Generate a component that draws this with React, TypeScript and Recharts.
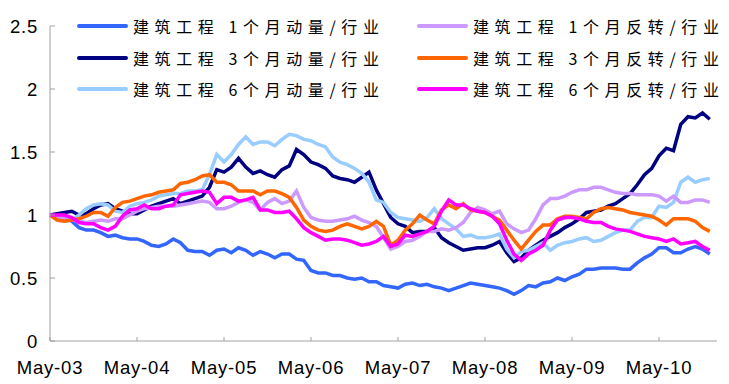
import React from 'react';
import { LineChart, Line, XAxis, YAxis, Legend } from 'recharts';

const tickLabels = ['May-03', 'May-04', 'May-05', 'May-06', 'May-07', 'May-08', 'May-09', 'May-10'];
const tickMonths = [0, 12, 24, 36, 48, 60, 72, 84];
const yTicks = [0, 0.5, 1, 1.5, 2, 2.5];

const seriesNames = [
  '建筑工程 1个月动量/行业',
  '建筑工程 3个月动量/行业',
  '建筑工程 6个月动量/行业',
  '建筑工程 1个月反转/行业',
  '建筑工程 3个月反转/行业',
  '建筑工程 6个月反转/行业',
];
const seriesColors = ['#3366FF', '#000080', '#99CCFF', '#CC99FF', '#FF6600', '#FF00FF'];

const mom1 = [1.00,0.99,0.98,0.95,0.90,0.88,0.88,0.86,0.83,0.84,
0.82,0.81,0.81,0.79,0.76,0.75,0.77,0.81,0.78,0.72,
0.71,0.71,0.68,0.72,0.73,0.70,0.74,0.72,0.68,0.71,
0.69,0.66,0.69,0.69,0.65,0.64,0.56,0.54,0.54,0.52,
0.52,0.50,0.49,0.50,0.47,0.47,0.44,0.43,0.42,0.45,
0.46,0.44,0.45,0.43,0.42,0.40,0.42,0.44,0.46,0.45,
0.44,0.43,0.42,0.40,0.37,0.40,0.44,0.43,0.46,0.47,
0.50,0.48,0.51,0.53,0.57,0.57,0.58,0.58,0.58,0.57,
0.57,0.62,0.66,0.69,0.74,0.74,0.70,0.70,0.73,0.75,
0.73,0.69];

const mom3 = [1.00,1.01,1.02,1.03,1.00,1.01,1.05,1.08,1.09,1.05,
1.03,1.01,1.01,1.04,1.07,1.09,1.11,1.13,1.09,1.11,
1.13,1.15,1.22,1.36,1.34,1.38,1.45,1.38,1.33,1.35,
1.32,1.30,1.36,1.39,1.52,1.48,1.42,1.40,1.37,1.31,
1.29,1.28,1.26,1.30,1.34,1.20,1.09,0.98,0.93,0.91,
0.86,0.87,0.87,0.90,0.82,0.78,0.75,0.72,0.73,0.74,
0.74,0.76,0.79,0.70,0.63,0.66,0.72,0.76,0.80,0.83,
0.86,0.90,0.93,0.97,1.02,1.03,1.04,1.07,1.09,1.13,
1.17,1.24,1.32,1.37,1.47,1.53,1.51,1.72,1.78,1.77,
1.81,1.76];

const mom6 = [1.00,0.96,0.95,0.96,1.00,1.05,1.08,1.09,1.08,1.03,
1.02,1.07,1.09,1.10,1.12,1.15,1.16,1.17,1.17,1.19,
1.19,1.20,1.32,1.48,1.42,1.48,1.56,1.62,1.56,1.58,
1.58,1.55,1.60,1.64,1.63,1.60,1.59,1.56,1.54,1.46,
1.42,1.40,1.37,1.33,1.26,1.12,1.10,1.02,0.98,0.97,
0.96,0.95,0.98,1.05,0.97,0.93,0.89,0.83,0.84,0.82,
0.82,0.83,0.85,0.73,0.66,0.71,0.72,0.75,0.78,0.72,
0.76,0.78,0.79,0.81,0.82,0.79,0.80,0.83,0.86,0.88,
0.88,0.95,0.98,0.98,1.07,1.06,1.10,1.26,1.30,1.26,
1.28,1.29];

const rev1 = [1.00,0.99,0.97,0.96,0.95,0.94,0.95,0.96,0.95,0.97,
0.97,1.00,1.03,1.05,1.06,1.07,1.07,1.07,1.08,1.09,
1.10,1.11,1.10,1.05,1.05,1.07,1.10,1.12,1.10,1.04,
1.10,1.13,1.09,1.11,1.19,1.06,0.98,0.96,0.95,0.95,
0.96,0.97,0.99,0.96,0.94,0.91,0.82,0.73,0.75,0.79,
0.80,0.83,0.87,0.87,0.89,0.88,0.90,0.94,1.02,1.06,
1.04,1.01,1.03,0.93,0.89,0.86,0.88,0.97,1.08,1.13,
1.13,1.15,1.18,1.20,1.20,1.22,1.22,1.20,1.18,1.17,
1.17,1.16,1.16,1.16,1.15,1.11,1.15,1.10,1.10,1.12,
1.12,1.10];

const rev3 = [1.00,0.96,0.95,0.96,0.97,0.99,1.02,1.02,0.99,1.06,
1.10,1.11,1.13,1.15,1.16,1.18,1.19,1.20,1.25,1.26,
1.28,1.31,1.32,1.26,1.26,1.24,1.19,1.19,1.19,1.16,
1.19,1.19,1.17,1.14,1.06,0.96,0.91,0.88,0.87,0.88,
0.91,0.93,0.91,0.89,0.91,0.95,0.91,0.76,0.80,0.88,
0.93,1.00,0.96,0.93,1.04,1.08,1.05,1.09,1.04,1.03,
1.02,0.99,0.96,0.88,0.80,0.73,0.80,0.87,0.92,0.92,
0.97,0.99,0.99,0.98,0.97,1.02,1.05,1.06,1.05,1.04,
1.02,1.01,1.00,0.99,0.96,0.92,0.97,0.97,0.97,0.95,
0.90,0.87];

const rev6 = [1.00,1.00,1.00,0.98,0.94,0.93,0.93,0.90,0.88,0.91,
0.99,1.04,1.05,1.08,1.05,1.05,1.07,1.08,1.16,1.17,
1.18,1.19,1.18,1.09,1.14,1.14,1.11,1.12,1.14,1.04,
1.04,1.02,1.02,1.03,0.97,0.90,0.86,0.83,0.80,0.81,
0.81,0.80,0.78,0.76,0.77,0.79,0.83,0.75,0.77,0.84,
0.83,0.85,0.87,0.91,1.03,1.12,1.08,1.08,1.05,1.03,
1.02,0.99,0.93,0.80,0.69,0.64,0.69,0.72,0.76,0.88,
0.96,0.98,0.98,0.97,0.95,0.94,0.94,0.91,0.89,0.88,
0.87,0.85,0.83,0.82,0.81,0.79,0.81,0.77,0.78,0.79,
0.75,0.72];

const seriesKeys = ['mom1', 'mom3', 'mom6', 'rev1', 'rev3', 'rev6'];
const seriesValues = [mom1, mom3, mom6, rev1, rev3, rev6];

const data = mom1.map((_, i) => {
  const row: any = { m: i };
  seriesKeys.forEach((k, j) => { row[k] = seriesValues[j][i]; });
  return row;
});

const fmtX = (v: number) => tickLabels[tickMonths.indexOf(v)] ?? '';
const fmtY = (v: number) => String(v);

const tickStyle = { fill: '#000', fontSize: 18.5, letterSpacing: 0.8, fontFamily: '"Liberation Sans", Arial, sans-serif' };

const renderLegend = () => (
  <div style={{ position: 'relative', width: 729, height: 0, overflow: 'visible' }}>
    {seriesNames.map((name, i) => {
      const col = i < 3 ? 0 : 1;
      const row = i % 3;
      const lineLeft = col === 0 ? 77 : 417;
      const cy = 26 + row * 31.5;
      return (
        <div key={name} style={{ position: 'absolute', left: lineLeft, top: cy - 12, height: 24, display: 'flex', alignItems: 'center', whiteSpace: 'nowrap' }}>
          <div style={{ width: 51, height: 4, background: seriesColors[i], borderRadius: 2 }} />
          <span style={{ marginLeft: 5, fontFamily: '"Noto Sans CJK SC", sans-serif', fontSize: 16, letterSpacing: 5.6, color: '#000', lineHeight: '24px' }}>{name}</span>
        </div>
      );
    })}
  </div>
);

export default function App() {
  return (
    <div style={{ position: 'absolute', left: 0, top: 0, width: 729, height: 384, background: '#fff' }}>
      <LineChart width={729} height={384} data={data} margin={{ top: 26, right: 12, left: 10, bottom: 13 }}>
        <XAxis
          dataKey="m"
          type="number"
          domain={[0, 92]}
          ticks={tickMonths}
          tickFormatter={fmtX}
          allowDecimals={false}
          height={30}
          stroke="#A0A0A0"
          tickSize={-4}
          tickMargin={24}
          tick={tickStyle}
        />
        <YAxis
          type="number"
          domain={[0, 2.5]}
          ticks={yTicks}
          tickFormatter={fmtY}
          width={40}
          stroke="#A0A0A0"
          tickSize={-5}
          tickMargin={17}
          tick={tickStyle}
        />
        <Legend content={renderLegend} verticalAlign="top" wrapperStyle={{ position: 'absolute', left: 0, top: 0, width: 729, height: 0, overflow: 'visible' }} />
        {seriesKeys.map((k, i) => (
          <Line key={k} type="linear" dataKey={k} name={seriesNames[i]} stroke={seriesColors[i]} strokeWidth={3.5} dot={false} isAnimationActive={false} />
        ))}
      </LineChart>
    </div>
  );
}
